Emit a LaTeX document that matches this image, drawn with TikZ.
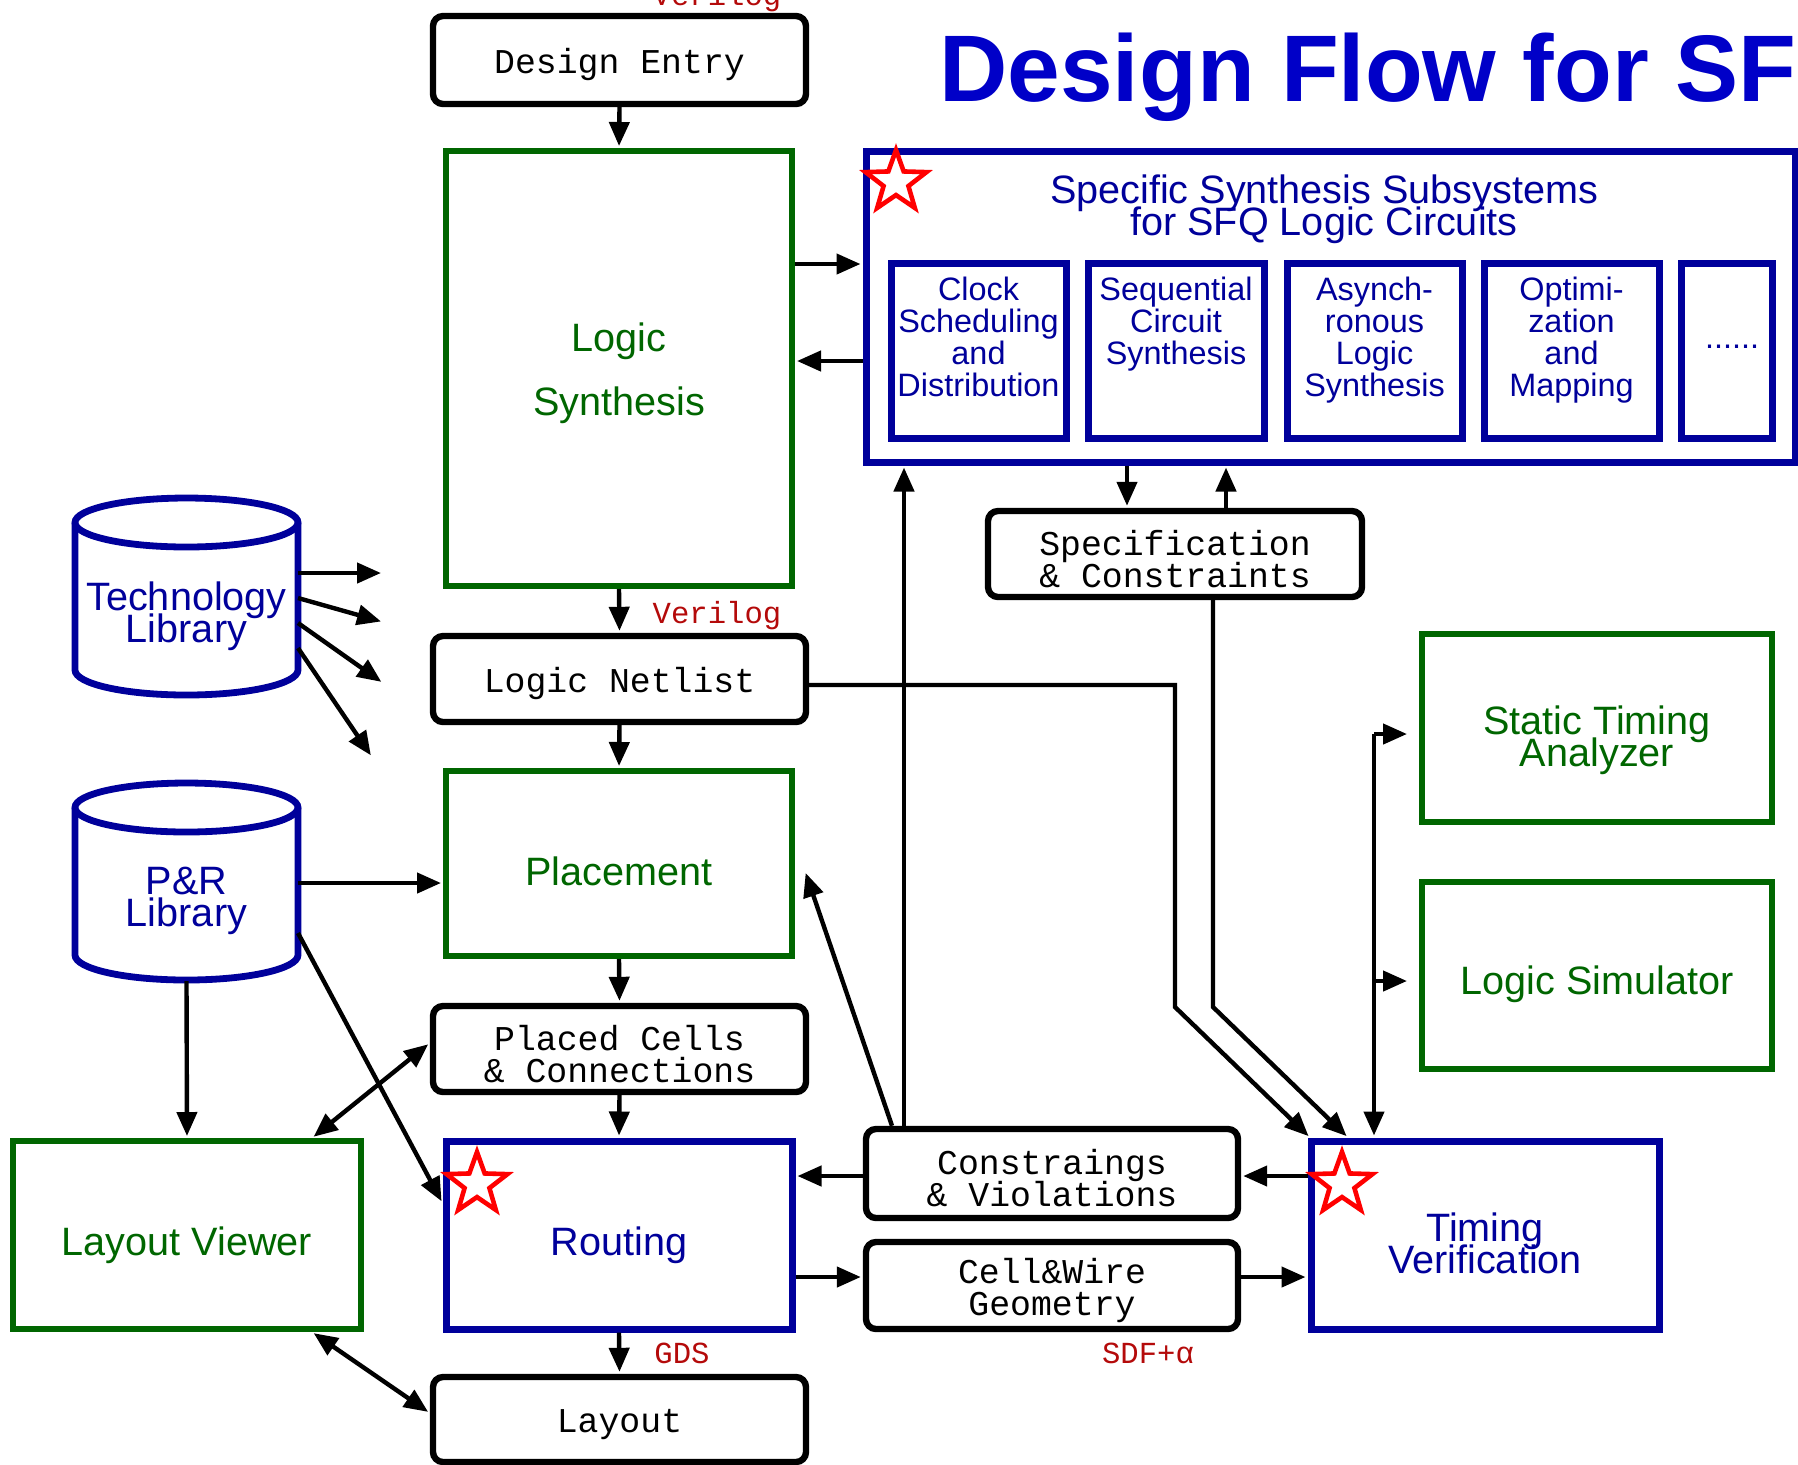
\documentclass[tikz,border=0pt]{standalone}
\usepackage{fontspec}
\setmainfont{Liberation Sans}
\newfontfamily\monof{Liberation Mono}
\usetikzlibrary{shapes.geometric,arrows.meta}
\definecolor{dblue}{RGB}{0,0,155}
\definecolor{tblue}{RGB}{0,0,200}
\definecolor{dgreen}{RGB}{0,102,0}
\definecolor{lred}{RGB}{180,10,10}
\def\tightlines{\lineskiplimit=-50pt\lineskip=0pt\relax}
\begin{document}
\begin{tikzpicture}[x=0.5pt,y=-0.5pt,
  bbox/.style={draw=black,line width=3.2pt,rounded corners=5pt,fill=white,inner sep=0pt},
  gbox/.style={draw=dgreen,line width=3pt,fill=white,inner sep=0pt},
  ubox/.style={draw=dblue,line width=3.5pt,fill=white,inner sep=0pt},
  mtxt/.style={font=\monof\fontsize{17.4}{16}\selectfont\tightlines,align=center,inner sep=0pt,yshift=-2.3pt},
  gtxt/.style={text=dgreen,font=\fontsize{19.8}{16}\selectfont\tightlines,align=center,inner sep=0pt},
  utxt/.style={text=dblue,font=\fontsize{19.8}{16}\selectfont\tightlines,align=center,inner sep=0pt},
  subtxt/.style={text=dblue,font=\fontsize{16.2}{16}\selectfont\tightlines,align=center,inner sep=0pt,anchor=north},
  arr/.style={line width=2.2pt,shorten >=1pt,-{Triangle[length=12pt,width=10pt]}},
  darr/.style={line width=2.2pt,shorten >=1pt,shorten <=1pt,{Triangle[length=12pt,width=10pt]}-{Triangle[length=12pt,width=10pt]}},
  lab/.style={text=lred,font=\monof\fontsize{15.3}{16}\selectfont,anchor=base,inner sep=0pt},
  starn/.style={star,star points=5,star point ratio=2.45,draw=red,line width=2.3pt,minimum size=32pt,inner sep=0pt},
  cyl/.style={draw=dblue,line width=3.4pt},
  ghost/.style={inner sep=0pt,outer sep=0pt}
]
\fill[white] (0,0) rectangle (1798,1464);
\useasboundingbox (0,0) rectangle (1798,1464);

% title
\node[anchor=base west,text=tblue,font=\bfseries\fontsize{47.3}{47}\selectfont,inner sep=0pt] (title) at (939,101) {Design Flow for SF};

% main column
\node[bbox,minimum width=186.5pt,minimum height=44pt] (de) at (619.5,60) {};
\node[mtxt] (det) at (de.center) {Design Entry};
\node[gbox,minimum width=173pt,minimum height=217.5pt] (ls) at (619,368.5) {};
\node[gtxt,font=\fontsize{19.8}{32}\selectfont,yshift=-2.3pt] (lst) at (ls.center) {Logic\\Synthesis};
\node[bbox,minimum width=186.5pt,minimum height=43pt] (nl) at (619.5,679) {};
\node[mtxt] (nlt) at (nl.center) {Logic Netlist};
\node[gbox,minimum width=173pt,minimum height=92.5pt] (pl) at (619,863.5) {};
\node[gtxt,yshift=-4pt] (plt) at (pl.center) {Placement};
\node[bbox,minimum width=186.5pt,minimum height=43pt] (pc) at (619.5,1049) {};
\node[mtxt] (pct) at (pc.center) {Placed Cells\\\& Connections};
\node[ubox,minimum width=173pt,minimum height=94pt] (rt) at (619,1235) {};
\node[utxt,yshift=-5pt] (rtt) at (rt.center) {Routing};
\node[bbox,minimum width=186.5pt,minimum height=42.5pt] (lo) at (619.5,1419.5) {};
\node[mtxt] (lot) at (lo.center) {Layout};
\node[gbox,minimum width=174pt,minimum height=94pt] (lv) at (187,1235) {};
\node[gtxt,yshift=-5pt] (lvt) at (lv.center) {Layout Viewer};

% subsystems
\node[ubox,minimum width=464.5pt,minimum height=155.5pt] (sss) at (1330.5,306.5) {};
\node[utxt,yshift=-1.2pt] (ssst) at (1324,207) {Specific Synthesis Subsystems\\for SFQ Logic Circuits};
\node[ubox,minimum width=87.5pt,minimum height=87.5pt] (sb1) at (978.5,350.5) {};
\node[ubox,minimum width=88pt,minimum height=87.5pt] (sb2) at (1176,350.5) {};
\node[ubox,minimum width=87.5pt,minimum height=87.5pt] (sb3) at (1374.5,350.5) {};
\node[ubox,minimum width=87.5pt,minimum height=87.5pt] (sb4) at (1571.5,350.5) {};
\node[ubox,minimum width=45.5pt,minimum height=87.5pt] (sb5) at (1726.5,350.5) {};
\node[subtxt] (st1) at (978.5,277) {Clock\\Scheduling\\and\\Distribution};
\node[subtxt] (st2) at (1176,277) {Sequential\\Circuit\\Synthesis};
\node[subtxt] (st3) at (1374.5,277) {Asynch-\\ronous\\Logic\\Synthesis};
\node[subtxt] (st4) at (1571.5,277) {Optimi-\\zation\\and\\Mapping};
\node[text=dblue,font=\fontsize{16.2}{16}\selectfont,anchor=base,inner sep=0pt] (st5) at (1732,348) {......};

\node[bbox,minimum width=187pt,minimum height=43pt] (spec) at (1175,554) {};
\node[mtxt] (spect) at (spec.center) {Specification\\\& Constraints};

% right boxes
\node[gbox,minimum width=175pt,minimum height=94pt] (sta) at (1597,728) {};
\node[gtxt,yshift=-6pt] (stat) at (sta.center) {Static Timing\\Analyzer};
\node[gbox,minimum width=175pt,minimum height=93.5pt] (lsim) at (1597,975.5) {};
\node[gtxt,yshift=-4.6pt] (lsimt) at (lsim.center) {Logic Simulator};
\node[bbox,minimum width=186pt,minimum height=44.5pt] (cons) at (1052,1173.5) {};
\node[mtxt] (const) at (cons.center) {Constraings\\\& Violations};
\node[bbox,minimum width=186pt,minimum height=43.5pt] (cw) at (1052,1285.5) {};
\node[mtxt] (cwt) at (cw.center) {Cell\&Wire\\Geometry};
\node[ubox,minimum width=174pt,minimum height=94pt] (tv) at (1485,1235) {};
\node[utxt,yshift=-4pt] (tvt) at (tv.center) {Timing\\Verification};

% cylinders
\draw[cyl] (75,522.5) -- (75,670) arc[start angle=180,end angle=360,x radius=55.75pt,y radius=12.5pt] -- (298,522.5);
\draw[cyl] (186.5,522.5) ellipse[x radius=55.75pt,y radius=12.25pt];
\node[ghost,minimum width=111.5pt,minimum height=99pt] (techc) at (186.5,597) {};
\node[utxt] (tech) at (186.5,616) {Technology\\Library};

\draw[cyl] (75,807.5) -- (75,955) arc[start angle=180,end angle=360,x radius=55.75pt,y radius=12.5pt] -- (298,807.5);
\draw[cyl] (186.5,807.5) ellipse[x radius=55.75pt,y radius=12.25pt];
\node[ghost,minimum width=111.5pt,minimum height=99pt] (prc) at (186.5,882) {};
\node[utxt] (prl) at (186.5,901) {P\&R\\Library};

% stars
\node[starn] (s1) at (896,182) {};
\node[starn] (s2) at (477,1184) {};
\node[starn] (s3) at (1342,1184) {};

% labels
\node[lab] (v1) at (717,5) {Verilog};
\node[lab] (v2) at (717,623) {Verilog};
\node[lab] (gds) at (682,1363) {GDS};
\node[lab] (sdf) at (1148,1363) {SDF+α};

% vertical chain
\draw[arr] (de.south) -- (ls.north);
\draw[arr] (ls.south) -- (nl.north);
\draw[arr] (nl.south) -- (pl.north);
\draw[arr] (pl.south) -- (pc.north);
\draw[arr] (pc.south) -- (rt.north);
\draw[arr] (rt.south) -- (lo.north);

% synthesis <-> subsystems
\draw[arr] (ls.east |- 0,264) -- (sss.west |- 0,264);
\draw[arr] (sss.west |- 0,361) -- (ls.east |- 0,361);
\draw[arr] (1127,0 |- sss.south) -- (1127,0 |- spec.north);
\draw[arr] (1226,0 |- spec.north) -- (1226,0 |- sss.south);

% technology library arrows
\coordinate (ta1) at (383,573);
\coordinate (ta2) at (383,622);
\coordinate (ta3) at (383,683);
\coordinate (ta4) at (372,757);
\draw[arr] (techc.east |- 0,573) -- (ta1);
\draw[arr] (techc.east |- 0,598) -- (ta2);
\draw[arr] (techc.east |- 0,623) -- (ta3);
\draw[arr] (techc.east |- 0,648) -- (ta4);

% P&R library
\draw[arr] (prc.east |- 0,883) -- (pl.west |- 0,883);
\draw[arr] (prc.east |- 0,933) -- (rt.west |- 0,1203);
\draw[arr] (prc.south) -- (lv.north);

% layout viewer
\draw[darr] (312,0 |- lv.north) -- (pc.west |- 0,1043);
\draw[darr] (312,0 |- lv.south) -- (lo.west |- 0,1413);

% netlist / spec to timing verification
\draw[arr] (nl.east |- 0,685) -- (1175,685) -- (1175,1007) -- (1310,0 |- tv.north);
\draw[arr] (1213,0 |- spec.south) -- (1213,1007) -- (1348,0 |- tv.north);

% timing verification to STA / logic sim
\coordinate (tvj) at (1374,734);
\draw[arr] (tvj) -- (tvj |- tv.north);
\draw[arr,shorten >=6pt] (tvj) -- (sta.west |- tvj);
\draw[arr,shorten >=6pt] (1374,981) -- (lsim.west |- 0,981);

% constraints & violations
\draw[arr] (cons.west |- 0,1176) -- (rt.east |- 0,1176);
\draw[arr] (tv.west |- 0,1176) -- (cons.east |- 0,1176);
\draw[arr] (904,0 |- cons.north) -- (904,0 |- sss.south);
\coordinate (pltip) at (805,871);
\draw[arr] (892,0 |- cons.north) -- (pltip);

% cell & wire geometry
\draw[arr] (rt.east |- 0,1277) -- (cw.west |- 0,1277);
\draw[arr] (cw.east |- 0,1277) -- (tv.west |- 0,1277);
\end{tikzpicture}
\end{document}
